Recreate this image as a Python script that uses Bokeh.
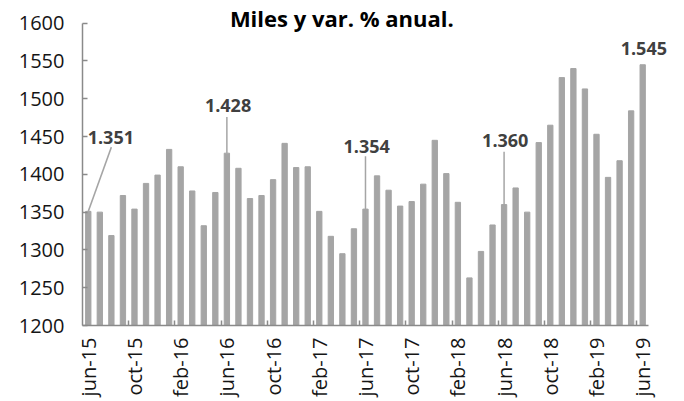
from bokeh.plotting import figure
from bokeh.models import FixedTicker, Label, Range1d
from bokeh.embed import file_html
from bokeh.resources import INLINE
import math

months = ["jun-15", "jul-15", "ago-15", "sep-15", "oct-15", "nov-15", "dic-15",
          "ene-16", "feb-16", "mar-16", "abr-16", "may-16",
          "jun-16", "jul-16", "ago-16", "sep-16", "oct-16", "nov-16", "dic-16",
          "ene-17", "feb-17", "mar-17", "abr-17", "may-17",
          "jun-17", "jul-17", "ago-17", "sep-17", "oct-17", "nov-17", "dic-17",
          "ene-18", "feb-18", "mar-18", "abr-18", "may-18",
          "jun-18", "jul-18", "ago-18", "sep-18", "oct-18", "nov-18", "dic-18",
          "ene-19", "feb-19", "mar-19", "abr-19", "may-19",
          "jun-19"]

values = [1351, 1350, 1319, 1372, 1354, 1388, 1399, 1433, 1410, 1378, 1332, 1376,
          1428, 1408, 1368, 1372, 1393, 1441, 1409, 1410, 1351, 1318, 1295, 1328,
          1354, 1398, 1379, 1358, 1364, 1387, 1445, 1401, 1363, 1263, 1298, 1333,
          1360, 1382, 1350, 1442, 1465, 1528, 1540, 1513, 1453, 1396, 1418, 1484,
          1545]

y_ticks = [1200, 1250, 1300, 1350, 1400, 1450, 1500, 1550, 1600]
label_step = 4
annotated = [0, 12, 24, 36, 48]

title_text = "Miles y var. % anual."

x = list(range(len(values)))
n = len(values)

p = figure(width=684, height=401, output_backend="svg", toolbar_location=None,
           x_range=Range1d(-0.5, 51.62), y_range=Range1d(1200, 1630),
           min_border_left=82, min_border_right=0, min_border_top=0,
           min_border_bottom=76)
p.outline_line_color = None
p.xgrid.visible = False
p.ygrid.visible = False
p.background_fill_color = "white"
p.border_fill_color = "white"

p.vbar(x=x, top=values, bottom=1200, width=0.46, color="#a5a5a5")

axis_col = "#8a8a8a"
lab_col = "#151515"

# y axis
ya = p.yaxis[0]
ya.bounds = (y_ticks[0], y_ticks[-1])
ya.ticker = FixedTicker(ticks=y_ticks)
ya.major_tick_in = 5
ya.major_tick_out = 0
ya.minor_tick_in = 0
ya.minor_tick_out = 0
ya.minor_tick_line_color = None
ya.axis_line_color = axis_col
ya.axis_line_width = 1.5
ya.major_tick_line_color = axis_col
ya.major_tick_line_width = 1.5
ya.major_label_standoff = 18
ya.major_label_text_font = "Open Sans"
ya.major_label_text_font_size = "20px"
ya.major_label_text_color = lab_col

# x axis
xa = p.xaxis[0]
xa.bounds = (-0.5, n - 0.5)
label_pos = x[::label_step]
boundaries = [i - 0.5 for i in range(label_step, n, label_step)]
xa.ticker = FixedTicker(ticks=label_pos, minor_ticks=boundaries)
xa.major_label_overrides = {i: months[i] for i in label_pos}
xa.major_label_orientation = math.pi / 2
xa.major_tick_in = 0
xa.major_tick_out = 0
xa.minor_tick_in = 5
xa.minor_tick_out = 0
xa.minor_tick_line_color = axis_col
xa.minor_tick_line_width = 1.5
xa.axis_line_color = axis_col
xa.axis_line_width = 1.5
xa.major_label_standoff = 12
xa.major_label_text_font = "Open Sans"
xa.major_label_text_font_size = "20px"
xa.major_label_text_color = lab_col

# leader lines (from bar top to label)
lead_x1 = [2.0, 12, 24, 36]
lead_y1 = [1436, 1476, 1424, 1430]
p.segment(x0=annotated[:4], y0=[values[i] for i in annotated[:4]],
          x1=lead_x1, y1=lead_y1, line_color="#a5a5a5", line_width=1.5)

# value labels
lab_y = [1449, 1491, 1437, 1445, 1566]
for k, i in enumerate(annotated):
    txt = f"{values[i] / 1000:.3f}"
    p.add_layout(Label(x=i - 0.05 if k == 0 else i + 0.1, y=lab_y[k], text=txt,
                       text_align="left" if k == 0 else "center",
                       text_baseline="alphabetic",
                       text_font="Open Sans", text_font_style="bold",
                       text_font_size="18px", text_color="#404040"))

# title
p.add_layout(Label(x=21.95, y=1607.5, text=title_text, text_align="center",
                   text_baseline="alphabetic", text_font="Open Sans",
                   text_font_style="bold", text_font_size="22px",
                   text_color="black"))

open("out.html", "w").write(file_html(p, INLINE))
